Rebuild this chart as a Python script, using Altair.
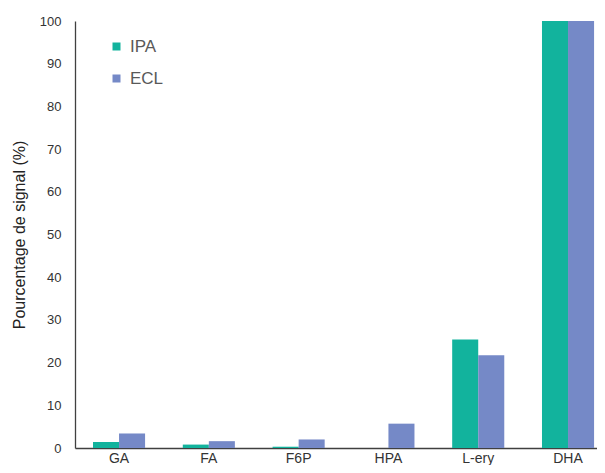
import altair as alt
import pandas as pd

categories = ["GA", "FA", "F6P", "HPA", "L-ery", "DHA"]
series = ["IPA", "ECL"]
ipa_values = [1.4, 0.8, 0.3, 0.0, 25.4, 100.0]
ecl_values = [3.4, 1.6, 2.0, 5.7, 21.7, 100.0]

rows = []
for c, a, b in zip(categories, ipa_values, ecl_values):
    rows.append({"cat": c, "serie": "IPA", "val": a})
    rows.append({"cat": c, "serie": "ECL", "val": b})
df = pd.DataFrame(rows)

colors = ["#12B39D", "#7589C7"]

chart = alt.Chart(df).mark_bar().encode(
    x=alt.X("cat:N", sort=categories,
            scale=alt.Scale(paddingInner=0.42, paddingOuter=0.1165, align=0.86),
            axis=alt.Axis(title=None, labelAngle=0, ticks=False, labelFontSize=14,
                          labelPadding=3, labelColor="#333333", domainColor="#404040",
                          domainWidth=1.3, labelFont="Liberation Sans")),
    xOffset=alt.XOffset("serie:N", sort=series),
    y=alt.Y("val:Q", scale=alt.Scale(domain=[0, 100], nice=False),
            axis=alt.Axis(title="Pourcentage de signal (%)", values=list(range(0, 101, 10)),
                          grid=False, ticks=False, labelFontSize=13, labelPadding=14,
                          labelColor="#333333", domainColor="#404040", domainWidth=1.3,
                          titleFontSize=16, titleFontWeight="normal", titleColor="#222222",
                          titlePadding=12, labelFont="Liberation Sans",
                          titleFont="Liberation Sans")),
    color=alt.Color("serie:N", sort=series,
                    scale=alt.Scale(domain=series, range=colors),
                    legend=alt.Legend(title=None, orient="none", legendX=33, legendY=17,
                                      symbolType="square", symbolSize=64,
                                      symbolStrokeWidth=0, labelFontSize=17,
                                      labelColor="#595959", rowPadding=14,
                                      labelFont="Liberation Sans", padding=0,
                                      labelOffset=5)),
).properties(
    width=522, height=427,
    autosize=alt.AutoSizeParams(type="none"),
    padding={"left": 67, "top": 13, "right": 0, "bottom": 17},
).configure_view(stroke=None)

chart.save("out.html", embed_options={"renderer": "svg", "actions": False})
